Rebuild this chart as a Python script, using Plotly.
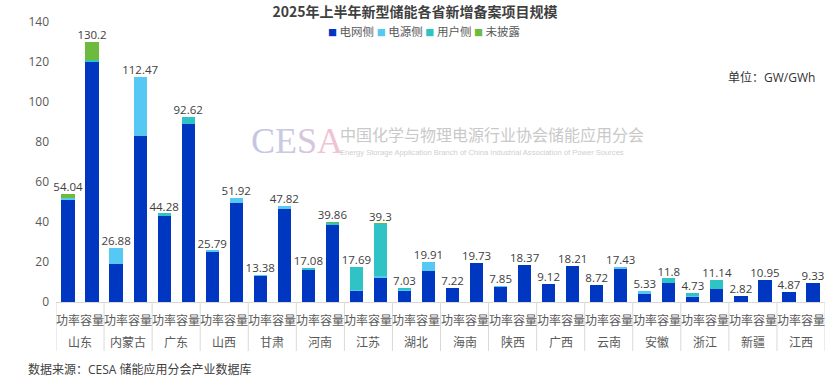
import plotly.graph_objects as go

provinces = ['山东', '内蒙古', '广东', '山西', '甘肃', '河南', '江苏', '湖北',
             '海南', '陕西', '广西', '云南', '安徽', '浙江', '新疆', '江西']
sub_labels = ['功率', '容量']

# totals (labels)
power_total = [54.04, 26.88, 44.28, 25.79, 13.38, 17.08, 17.69, 7.03,
               7.22, 7.85, 9.12, 8.72, 5.33, 4.73, 2.82, 4.87]
cap_total = [130.2, 112.47, 92.62, 51.92, 47.82, 39.86, 39.3, 19.91,
             19.73, 18.37, 18.21, 17.43, 11.8, 11.14, 10.95, 9.33]

# power (GW) components
grid_p = [51.0, 19.2, 43.0, 25.2, 13.1, 16.3, 5.5, 5.8, 7.22, 7.5, 9.12, 8.72, 4.4, 2.6, 2.82, 4.87]
source_p = [1.2, 7.68, 0, 0.59, 0.28, 0, 0.3, 0.5, 0, 0.35, 0, 0, 0.93, 0.4, 0, 0]
user_p = [0, 0, 1.28, 0, 0, 0.78, 11.89, 0.73, 0, 0, 0, 0, 0, 1.73, 0, 0]
undisc_p = [1.84, 0, 0, 0, 0, 0, 0, 0, 0, 0, 0, 0, 0, 0, 0, 0]

# capacity (GWh) components
grid_c = [120.2, 83.0, 88.8, 49.5, 46.5, 38.7, 12.2, 15.3, 19.73, 18.37, 18.21, 16.93, 9.3, 6.5, 10.95, 9.33]
source_c = [0, 29.47, 0, 2.42, 1.32, 0, 1.0, 4.61, 0, 0, 0, 0.5, 0, 0, 0, 0]
user_c = [1.0, 0, 3.82, 0, 0, 0.86, 25.8, 0, 0, 0, 0, 0, 2.5, 4.64, 0, 0]
undisc_c = [9.0, 0, 0, 0, 0, 0.3, 0.3, 0, 0, 0, 0, 0, 0, 0, 0, 0]

series_names = ['电网侧', '电源侧', '用户侧', '未披露']
series_colors = ['#0037C1', '#55C9F3', '#2FC3C6', '#6DBB3D']


def interleave(a, b):
    out = []
    for u, v in zip(a, b):
        out += [u, v]
    return out


x_outer = [p for p in provinces for _ in sub_labels]
x_inner = sub_labels * len(provinces)
xcat = [x_outer, x_inner]
nsub = len(sub_labels)

series_vals = [interleave(grid_p, grid_c), interleave(source_p, source_c),
               interleave(user_p, user_c), interleave(undisc_p, undisc_c)]
totals = interleave(power_total, cap_total)

FONT = 'Open Sans, Noto Sans CJK SC, sans-serif'
CJK = 'Noto Sans CJK SC, sans-serif'
GREY = '#595959'
LINE = '#d9d9d9'

fig = go.Figure()
for name, col, vals in zip(series_names, series_colors, series_vals):
    fig.add_trace(go.Bar(x=xcat, y=vals, name=name, marker_color=col,
                         marker_line_width=0, showlegend=False))

fig.add_trace(go.Scatter(x=xcat, y=totals, mode='text',
                         text=[f'{v:g}' for v in totals],
                         textposition='top center',
                         textfont=dict(size=11.5, color='#404040', family=FONT),
                         showlegend=False, hoverinfo='skip', cliponaxis=False))

W, H = 829, 380
L, R, T, B = 56, 4, 22, 78
pw, ph = W - L - R, H - T - B


def px(x):  # pixel x -> paper coordinate
    return (x - L) / pw


def py(y):  # pixel y -> paper coordinate
    return (H - B - y) / ph


annotations = []
shapes = []

# two-level category labels and group dividers (positions from category index)
for j, lab in enumerate(x_inner):
    annotations.append(dict(text=lab, x=j, y=py(319.5), xref='x', yref='paper',
                            xanchor='center', yanchor='middle', showarrow=False,
                            font=dict(size=12, color=GREY, family=CJK)))
for i, prov in enumerate(provinces):
    annotations.append(dict(text=prov, x=i * nsub + (nsub - 1) / 2, y=py(341),
                            xref='x', yref='paper', xanchor='center', yanchor='middle',
                            showarrow=False, font=dict(size=12, color=GREY, family=CJK)))
for i in range(len(provinces) + 1):
    shapes.append(dict(type='line', xref='x', yref='paper',
                       x0=i * nsub - 0.5, x1=i * nsub - 0.5, y0=0, y1=py(351),
                       line=dict(color=LINE, width=1)))

# legend (manual)
leg = ' '.join(
    f'<span style="color:{c};font-size:9px">■</span> {n}'
    for n, c in zip(series_names, series_colors))
annotations.append(dict(text=leg, x=px(424), y=py(31), xref='paper', yref='paper',
                        xanchor='center', yanchor='middle', showarrow=False,
                        font=dict(size=11.5, color=GREY, family=CJK)))
# unit
annotations.append(dict(text='单位：GW/GWh', x=px(817), y=py(77), xref='paper', yref='paper',
                        xanchor='right', yanchor='middle', showarrow=False,
                        font=dict(size=12, color='#333333', family=FONT)))
# source
annotations.append(dict(text='数据来源：CESA 储能应用分会产业数据库', x=px(26), y=py(369),
                        xref='paper', yref='paper', xanchor='left', yanchor='middle',
                        showarrow=False, font=dict(size=12, color='#404040', family=FONT)))
# watermark
cesa = ('<span style="color:#c5c7e2">C</span><span style="color:#cbc8e2">E</span>'
        '<span style="color:#d6c6de">S</span><span style="color:#f0c3d3">A</span>')
annotations.append(dict(text=cesa, x=px(249), y=py(141), xref='paper', yref='paper',
                        xanchor='left', yanchor='middle', showarrow=False,
                        font=dict(size=36, family='Liberation Serif, serif')))
annotations.append(dict(text='中国化学与物理电源行业协会储能应用分会', x=px(338), y=py(134),
                        xref='paper', yref='paper', xanchor='left', yanchor='middle',
                        showarrow=False, font=dict(size=16, color='#c9c9c9', family=CJK)))
annotations.append(dict(text='Energy Storage Application Branch of China Industrial Association of Power Sources',
                        x=px(338), y=py(152), xref='paper', yref='paper', xanchor='left',
                        yanchor='middle', showarrow=False,
                        font=dict(size=7.6, color='#cfcfcf', family='Liberation Sans, Arial, sans-serif')))

fig.update_layout(
    width=W, height=H,
    margin=dict(l=L, r=R, t=T, b=B),
    paper_bgcolor='white', plot_bgcolor='white',
    barmode='stack', bargap=0.45,
    title=dict(text='<b>2025年上半年新型储能各省新增备案项目规模</b>',
               x=415 / W, xanchor='center', y=1 - 12.5 / H, yanchor='middle',
               font=dict(size=14, color='#404040', family=CJK)),
    font=dict(family=FONT, color=GREY),
    annotations=annotations,
    shapes=shapes,
    xaxis=dict(type='multicategory', showline=True, linecolor=LINE, linewidth=1,
               showdividers=False, showticklabels=False,
               range=[-0.5, len(x_inner) - 0.5],
               automargin=False, showgrid=False),
    yaxis=dict(range=[0, 140], tickvals=list(range(0, 141, 20)), showgrid=False,
               zeroline=False, showline=False, ticks='', automargin=False,
               ticklabelstandoff=6,
               tickfont=dict(size=12, color=GREY, family=FONT)),
)

fig.write_html('out.html', config={'displayModeBar': False},
               post_script="document.body.style.margin='0';document.body.style.padding='0';")
